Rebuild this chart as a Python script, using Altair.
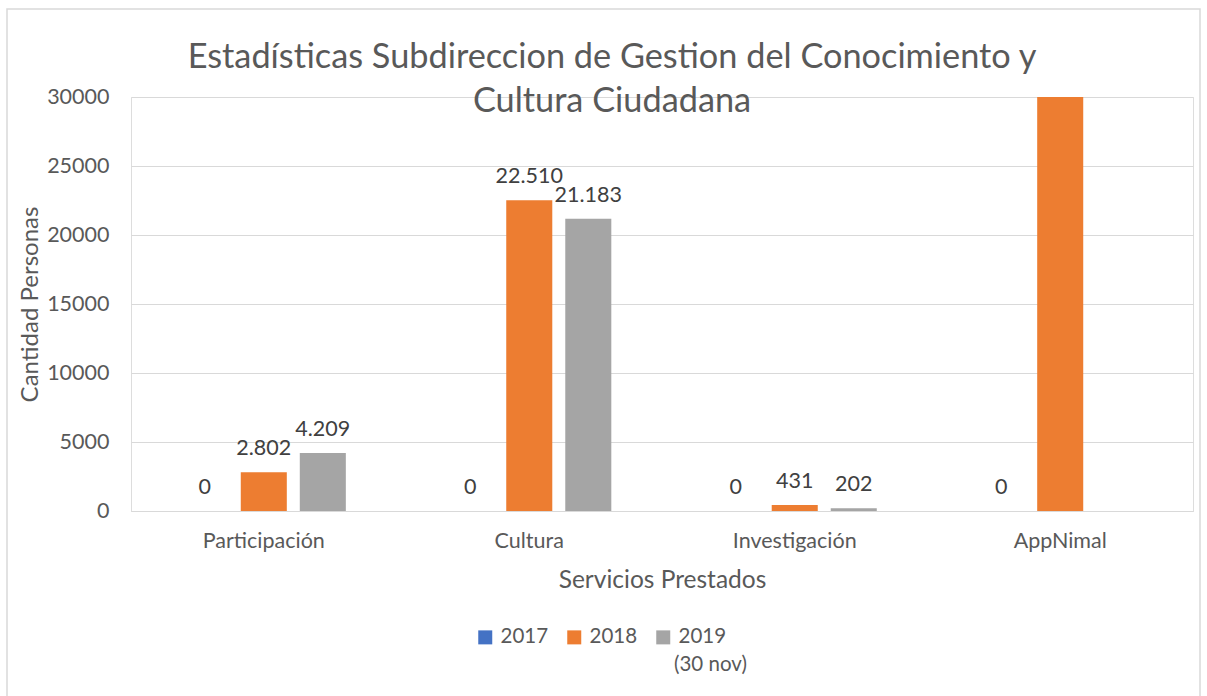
import altair as alt
import pandas as pd

categories = ["Participación", "Cultura", "Investigación", "AppNimal"]
series = ["2017", "2018", "2019"]
series_note = "(30 nov)"
values_2017 = [0, 0, 0, 0]
values_2018 = [2802, 22510, 431, 30000]
values_2019 = [4209, 21183, 202, None]
show_label_2018 = [True, True, True, False]
colors = ["#4472C4", "#ED7D31", "#A5A5A5"]

rows = []
for i, c in enumerate(categories):
    for s, vals in zip(series, [values_2017, values_2018, values_2019]):
        v = vals[i]
        lab = None
        if v is not None:
            lab = f"{v:,}".replace(",", ".")
        if s == "2018" and not show_label_2018[i]:
            lab = None
        rows.append({"cat": c, "serie": s, "value": v, "label": lab})
df = pd.DataFrame(rows)

FONT = "Lato"
TXT = "#595959"
LBL = 21.5

x = alt.X("cat:N", sort=categories, title="Servicios Prestados",
          scale=alt.Scale(paddingInner=0.333, paddingOuter=0.1667),
          axis=alt.Axis(labelAngle=0, ticks=False, domain=True, domainColor="#d9d9d9",
                        labelFontSize=LBL, labelColor=TXT, labelFont=FONT,
                        labelPadding=19, titleFontSize=24.5, titleColor=TXT,
                        titleFont=FONT, titleFontWeight="normal", titlePadding=17))
xo = alt.XOffset("serie:N", sort=series,
                 scale=alt.Scale(paddingInner=0.22, paddingOuter=0.11))
y = alt.Y("value:Q", title="Cantidad Personas",
          scale=alt.Scale(domain=[0, 30000], nice=False),
          axis=alt.Axis(values=[0, 5000, 10000, 15000, 20000, 25000, 30000],
                        format="d", ticks=False, domain=False, gridColor="#d9d9d9",
                        labelFontSize=LBL, labelColor=TXT, labelFont=FONT,
                        labelPadding=22, titleFontSize=24, titleColor=TXT,
                        titleFont=FONT, titleFontWeight="normal", titlePadding=4))

color = alt.Color("serie:N", sort=series,
                  scale=alt.Scale(domain=series, range=colors),
                  legend=alt.Legend(title=None, orient="none", direction="horizontal",
                                    legendX=344, legendY=530, symbolType="square",
                                    symbolSize=196, symbolStrokeWidth=0,
                                    labelFontSize=20.5, labelColor=TXT, labelFont=FONT,
                                    columnPadding=15, labelOffset=5, labelLimit=200))

bars = alt.Chart(df).mark_bar(clip=True).encode(x=x, xOffset=xo, y=y, color=color)
labels = alt.Chart(df).transform_filter("datum.label != null").mark_text(
    baseline="middle", dy=-23, fontSize=LBL, font=FONT, color="#404040"
).encode(x=alt.X("cat:N", sort=categories), xOffset=alt.XOffset("serie:N", sort=series),
         y=alt.Y("value:Q"), text="label:N")

note = alt.Chart(pd.DataFrame({"t": [series_note]})).mark_text(
    align="left", baseline="middle", fontSize=20.5, font=FONT, color=TXT, clip=False
).encode(x=alt.value(543), y=alt.value(568), text="t:N")

border = alt.Chart(pd.DataFrame({"a": [0]})).mark_rect(
    fill=None, stroke="#d9d9d9", strokeWidth=1.5, clip=False
).encode(x=alt.value(-124), x2=alt.value(1069), y=alt.value(-88), y2=alt.value(600))

chart = alt.layer(border, bars, labels, note).properties(
    width=1062, height=414,
    autosize=alt.AutoSizeParams(type="none"),
    padding={"left": 131, "top": 97, "right": 14, "bottom": 185},
    title=alt.TitleParams(["Estadísticas Subdireccion de Gestion del Conocimiento y",
                           "Cultura Ciudadana"],
                          fontSize=34.3, font=FONT, fontWeight="normal", color=TXT,
                          anchor="middle", frame="group", dx=-50, offset=-28, dy=83,
                          lineHeight=44)
).configure_view(stroke=None).configure(background="white")

chart.save("out.html", embed_options={"renderer": "svg", "actions": False})
